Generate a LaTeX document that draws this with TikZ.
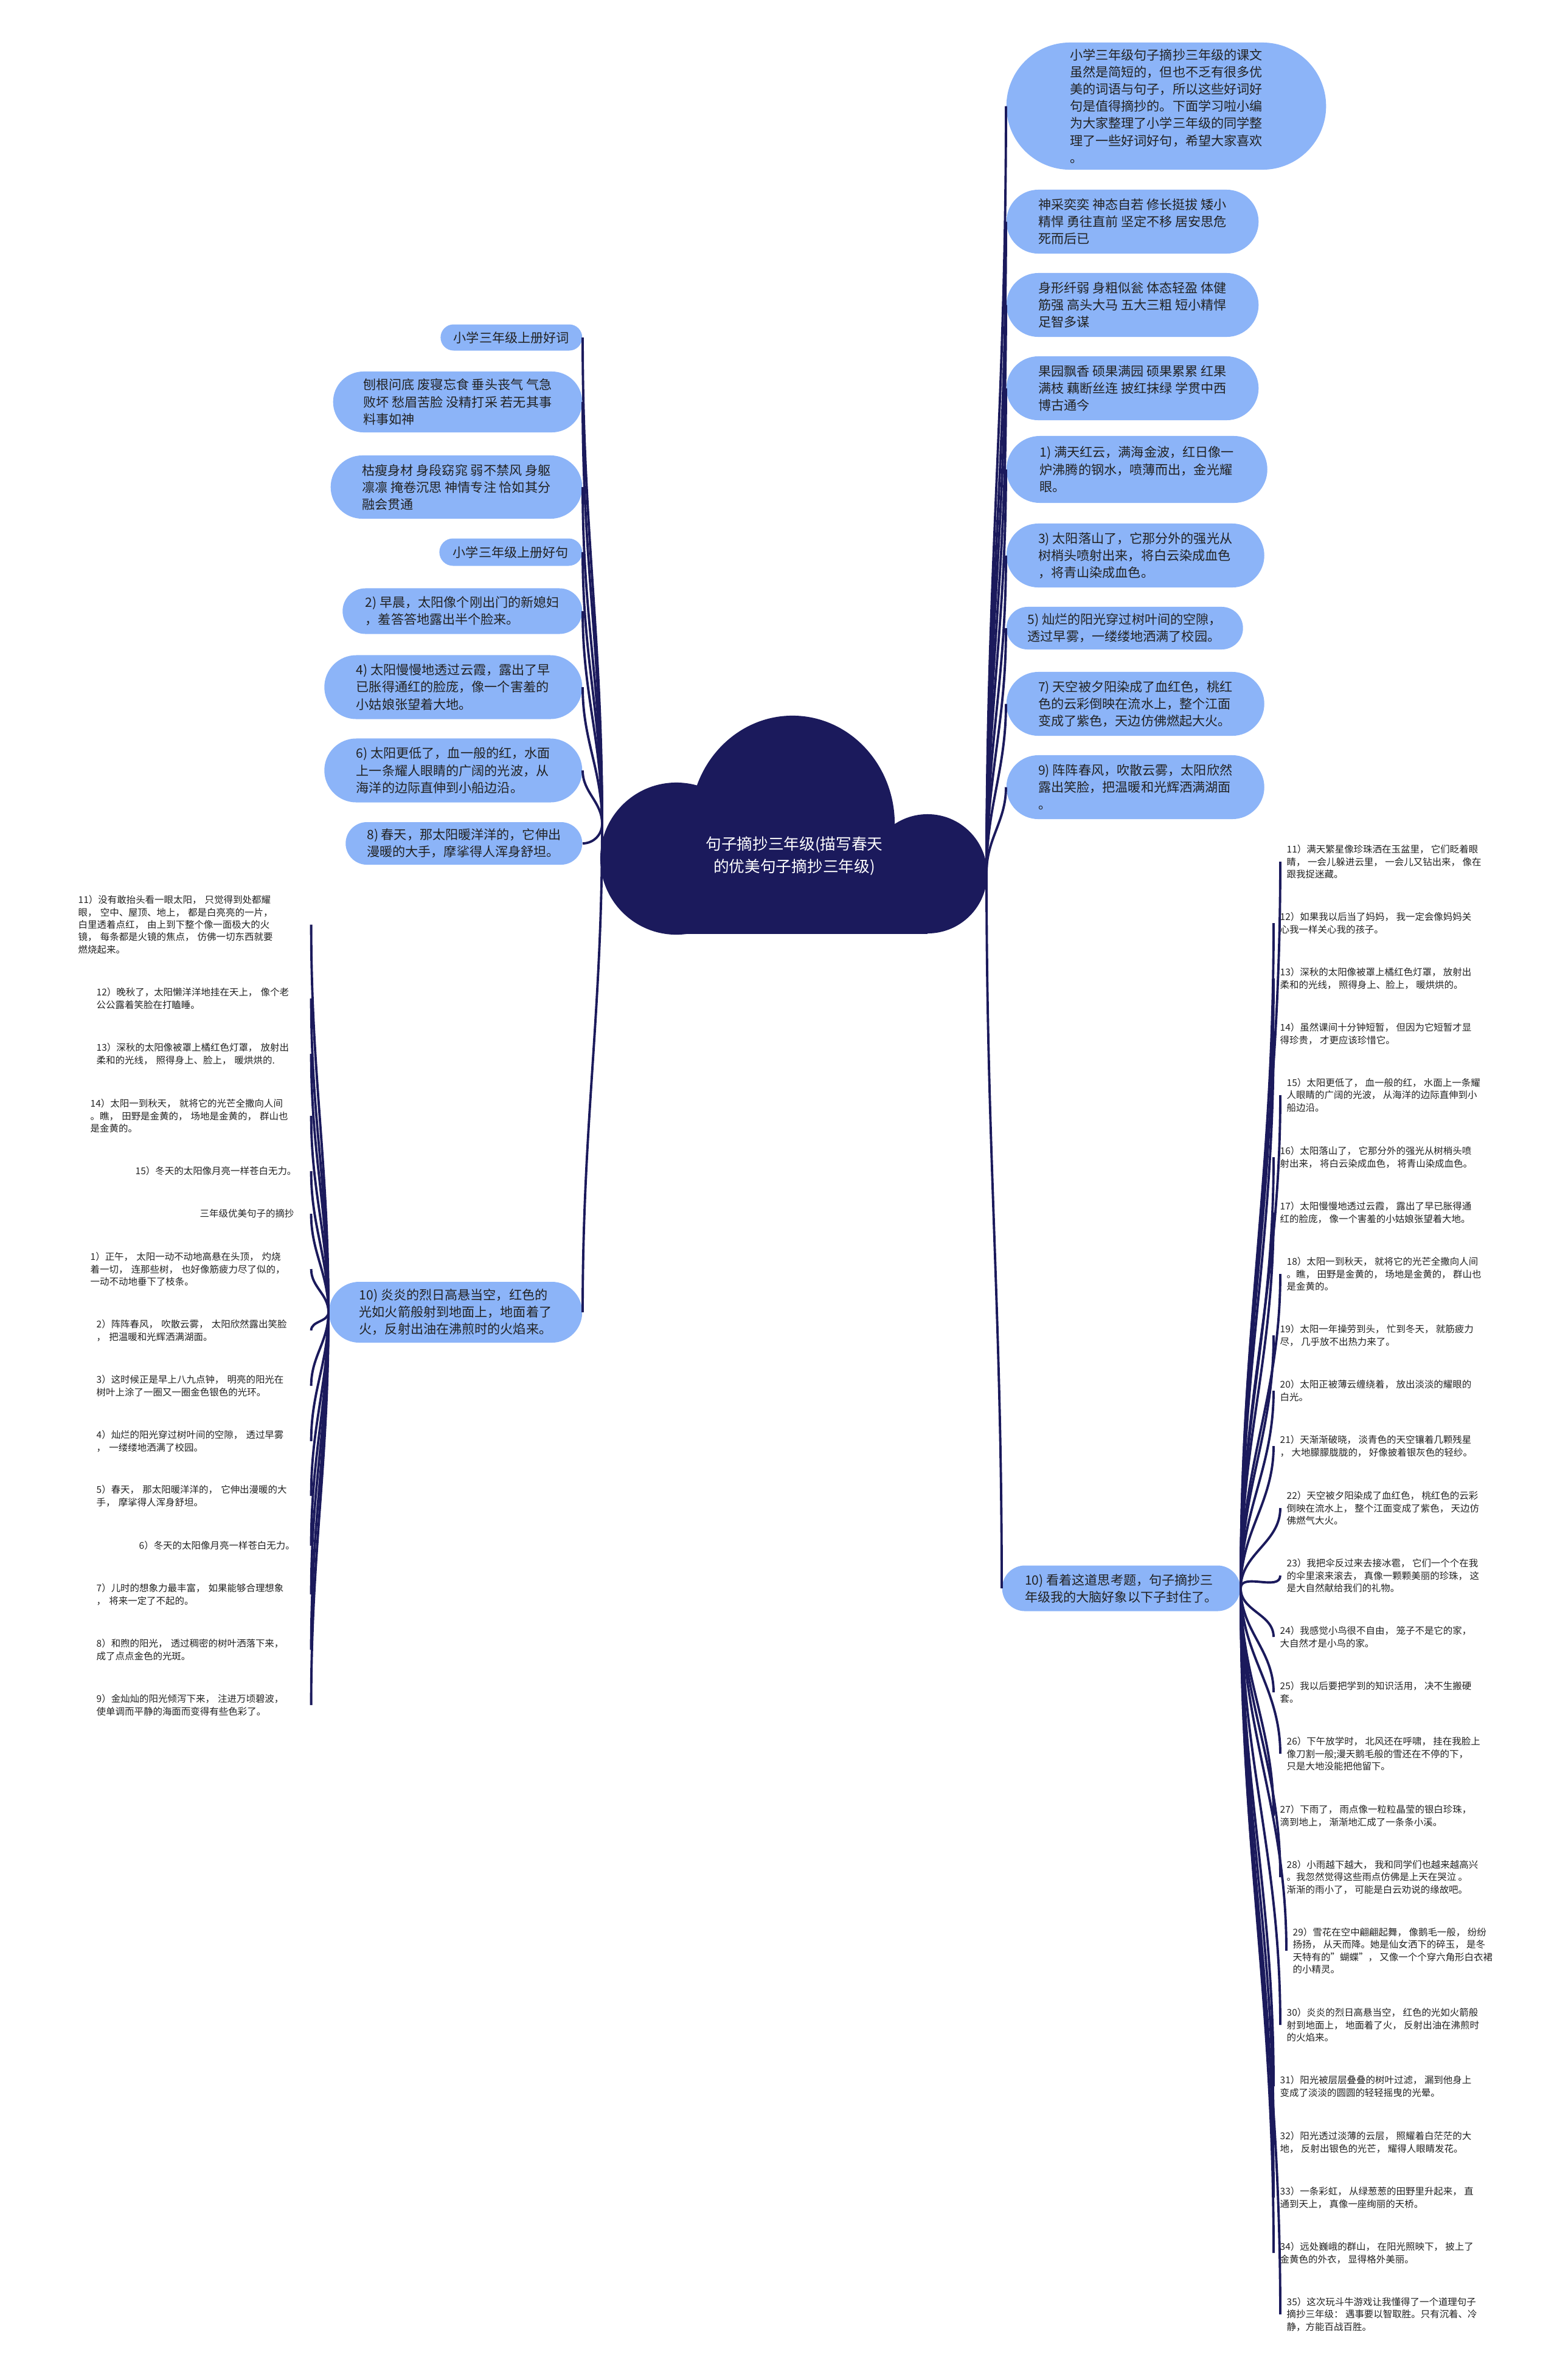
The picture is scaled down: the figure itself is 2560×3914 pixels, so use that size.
\documentclass[tikz,border=0pt]{standalone}
\usepackage{fontspec}
\setmainfont{Noto Sans CJK SC}
\usepackage{tikz}
\definecolor{inknavy}{HTML}{1B1A5C}
\definecolor{pillblue}{HTML}{8CB4F8}
\definecolor{textgrey}{HTML}{222222}
\tikzset{pill/.style={rectangle,rounded corners=#1,minimum height=2*#1,fill=pillblue,
  inner xsep=#1,inner ysep=0pt,align=left,text=textgrey,font=\fontsize{6}{8}\selectfont},
  leafR/.style={anchor=west,inner ysep=0pt,inner xsep=0.1cm,align=left,text=textgrey,
  font=\fontsize{4.4}{5.8}\selectfont},
  leafL/.style={leafR,text width=#1},
  link/.style={draw=inknavy,line width=1.1pt}}

\begin{document}
\begin{tikzpicture}[x=0.01cm,y=-0.01cm]
 \fill[white] (0,0) rectangle (2560,3914);
 \useasboundingbox (0,0) rectangle (2560,3914);
 % cloud
 \fill[inknavy] (1303,1355) ellipse [x radius=1.68cm,y radius=1.78cm];
 \fill[inknavy] (1112,1412) circle [radius=1.25cm];
 \fill[inknavy] (1525,1437) circle [radius=0.98cm];
 \fill[inknavy] (1112,1400) rectangle (1525,1536);
 \node[text=white,align=center,font=\fontsize{7.3}{10.5}\selectfont] (root) at (1306,1408)
  {句子摘抄三年级(描写春天\\的优美句子摘抄三年级)};
 \coordinate (rootW) at (990,1355);
 \coordinate (rootE) at (1622,1435);
 % right branch
 \node[pill=1.045cm,anchor=west] (intro) at (1654,174.5) {小学三年级句子摘抄三年级的课文\\虽然是简短的，但也不乏有很多优\\美的词语与句子，所以这些好词好\\句是值得摘抄的。下面学习啦小编\\为大家整理了小学三年级的同学整\\理了一些好词好句，希望大家喜欢\\。};
 \node[pill=0.525cm,anchor=west] (words1) at (1654,364.5) {神采奕奕 神态自若 修长挺拔 矮小\\精悍 勇往直前 坚定不移 居安思危\\死而后已};
 \node[pill=0.525cm,anchor=west] (words2) at (1654,501.5) {身形纤弱 身粗似瓮 体态轻盈 体健\\筋强 高头大马 五大三粗 短小精悍\\足智多谋};
 \node[pill=0.525cm,anchor=west] (words3) at (1654,638.5) {果园飘香 硕果满园 硕果累累 红果\\满枝 藕断丝连 披红抹绿 学贯中西\\博古通今};
 \node[pill=0.55cm,anchor=west] (sent1) at (1654,772) {1) 满天红云，满海金波，红日像一\\炉沸腾的钢水，喷薄而出，金光耀\\眼。};
 \node[pill=0.525cm,anchor=west] (sent3) at (1654,913.5) {3) 太阳落山了，它那分外的强光从\\树梢头喷射出来，将白云染成血色\\，将青山染成血色。};
 \node[pill=0.35cm,anchor=west] (sent5) at (1654,1033) {5) 灿烂的阳光穿过树叶间的空隙，\\透过早雾，一缕缕地洒满了校园。};
 \node[pill=0.525cm,anchor=west] (sent7) at (1654,1157.5) {7) 天空被夕阳染成了血红色，桃红\\色的云彩倒映在流水上，整个江面\\变成了紫色，天边仿佛燃起大火。};
 \node[pill=0.525cm,anchor=west] (sent9) at (1654,1294.5) {9) 阵阵春风，吹散云雾，太阳欣然\\露出笑脸，把温暖和光辉洒满湖面\\。};
 \node[pill=0.375cm,anchor=west] (think) at (1647,2612) {10) 看着这道思考题，句子摘抄三\\年级我的大脑好象以下子封住了。};
 % left branch
 \node[pill=0.215cm,anchor=east] (wordhead) at (958,555) {小学三年级上册好词};
 \node[pill=0.5cm,anchor=east] (words4) at (958,661) {刨根问底 废寝忘食 垂头丧气 气急\\败坏 愁眉苦脸 没精打采 若无其事\\料事如神};
 \node[pill=0.52cm,anchor=east] (words5) at (958,801) {枯瘦身材 身段窈窕 弱不禁风 身躯\\凛凛 掩卷沉思 神情专注 恰如其分\\融会贯通};
 \node[pill=0.225cm,anchor=east] (senthead) at (958,908) {小学三年级上册好句};
 \node[pill=0.375cm,anchor=east] (sent2) at (958,1005) {2) 早晨，太阳像个刚出门的新媳妇\\，羞答答地露出半个脸来。};
 \node[pill=0.525cm,anchor=east] (sent4) at (958,1130) {4) 太阳慢慢地透过云霞，露出了早\\已胀得通红的脸庞，像一个害羞的\\小姑娘张望着大地。};
 \node[pill=0.525cm,anchor=east] (sent6) at (958,1267) {6) 太阳更低了，血一般的红，水面\\上一条耀人眼睛的广阔的光波，从\\海洋的边际直伸到小船边沿。};
 \node[pill=0.35cm,anchor=east] (sent8) at (958,1387) {8) 春天，那太阳暖洋洋的，它伸出\\漫暖的大手，摩挲得人浑身舒坦。};
 \node[pill=0.5cm,anchor=east] (sent10) at (958,2158) {10) 炎炎的烈日高悬当空，红色的\\光如火箭般射到地面上，地面着了\\火，反射出油在沸煎时的火焰来。};
 % leaves of sent10
 \node[leafL=3.72cm] (lf11) at (118,1520.6) {11）没有敢抬头看一眼太阳， 只觉得到处都耀\\眼， 空中、屋顶、地上， 都是白亮亮的一片，\\白里透着点红， 由上到下整个像一面极大的火\\镜， 每条都是火镜的焦点， 仿佛一切东西就要\\燃烧起来。};
 \node[leafL=3.42cm] (lf12) at (148,1642) {12）晚秋了，太阳懒洋洋地挂在天上， 像个老\\公公露着笑脸在打瞌睡。};
 \node[leafL=3.42cm] (lf13) at (148,1733) {13）深秋的太阳像被罩上橘红色灯罩， 放射出\\柔和的光线， 照得身上、脸上， 暖烘烘的.};
 \node[leafL=3.52cm] (lf14) at (138,1835) {14）太阳一到秋天， 就将它的光芒全撒向人间\\。瞧， 田野是金黄的， 场地是金黄的， 群山也\\是金黄的。};
 \node[leafL=2.78cm] (lf15) at (212,1926) {15）冬天的太阳像月亮一样苍白无力。};
 \node[leafL=1.72cm] (lfhead) at (318,1996) {三年级优美句子的摘抄};
 \node[leafL=3.52cm] (lf1) at (138,2087) {1）正午， 太阳一动不动地高悬在头顶， 灼烧\\着一切， 连那些树， 也好像筋疲力尽了似的，\\一动不动地垂下了枝条。};
 \node[leafL=3.42cm] (lf2) at (148,2188) {2）阵阵春风， 吹散云雾， 太阳欣然露出笑脸\\， 把温暖和光辉洒满湖面。};
 \node[leafL=3.42cm] (lf3) at (148,2279) {3）这时候正是早上八九点钟， 明亮的阳光在\\树叶上涂了一圈又一圈金色银色的光环。};
 \node[leafL=3.42cm] (lf4) at (148,2370) {4）灿烂的阳光穿过树叶间的空隙， 透过早雾\\， 一缕缕地洒满了校园。};
 \node[leafL=3.42cm] (lf5) at (148,2460) {5）春天， 那太阳暖洋洋的， 它伸出漫暖的大\\手， 摩挲得人浑身舒坦。};
 \node[leafL=2.72cm] (lf6) at (218,2542) {6）冬天的太阳像月亮一样苍白无力。};
 \node[leafL=3.42cm] (lf7) at (148,2622) {7）儿时的想象力最丰富， 如果能够合理想象\\， 将来一定了不起的。};
 \node[leafL=3.42cm] (lf8) at (148,2713) {8）和煦的阳光， 透过稠密的树叶洒落下来，\\成了点点金色的光斑。};
 \node[leafL=3.42cm] (lf9) at (148,2804) {9）金灿灿的阳光倾泻下来， 注进万顷碧波，\\使单调而平静的海面而变得有些色彩了。};
 % leaves of think
 \node[leafR] (rf11) at (2105,1417) {11）满天繁星像珍珠洒在玉盆里， 它们眨着眼\\睛， 一会儿躲进云里， 一会儿又钻出来， 像在\\跟我捉迷藏。};
 \node[leafR] (rf12) at (2094,1518) {12）如果我以后当了妈妈， 我一定会像妈妈关\\心我一样关心我的孩子。};
 \node[leafR] (rf13) at (2094,1609) {13）深秋的太阳像被罩上橘红色灯罩， 放射出\\柔和的光线， 照得身上、脸上， 暖烘烘的。};
 \node[leafR] (rf14) at (2094,1700) {14）虽然课间十分钟短暂， 但因为它短暂才显\\得珍贵， 才更应该珍惜它。};
 \node[leafR] (rf15) at (2105,1801) {15）太阳更低了， 血一般的红， 水面上一条耀\\人眼睛的广阔的光波， 从海洋的边际直伸到小\\船边沿。};
 \node[leafR] (rf16) at (2094,1903) {16）太阳落山了， 它那分外的强光从树梢头喷\\射出来， 将白云染成血色， 将青山染成血色。};
 \node[leafR] (rf17) at (2094,1994) {17）太阳慢慢地透过云霞， 露出了早已胀得通\\红的脸庞， 像一个害羞的小姑娘张望着大地。};
 \node[leafR] (rf18) at (2105,2095) {18）太阳一到秋天， 就将它的光芒全撒向人间\\。瞧， 田野是金黄的， 场地是金黄的， 群山也\\是金黄的。};
 \node[leafR] (rf19) at (2094,2196) {19）太阳一年操劳到头， 忙到冬天， 就筋疲力\\尽， 几乎放不出热力来了。};
 \node[leafR] (rf20) at (2094,2287) {20）太阳正被薄云缠绕着， 放出淡淡的耀眼的\\白光。};
 \node[leafR] (rf21) at (2094,2378) {21）天渐渐破晓， 淡青色的天空镶着几颗残星\\， 大地朦朦胧胧的， 好像披着银灰色的轻纱。};
 \node[leafR] (rf22) at (2105,2480) {22）天空被夕阳染成了血红色， 桃红色的云彩\\倒映在流水上， 整个江面变成了紫色， 天边仿\\佛燃气大火。};
 \node[leafR] (rf23) at (2105,2591) {23）我把伞反过来去接冰雹， 它们一个个在我\\的伞里滚来滚去， 真像一颗颗美丽的珍珠， 这\\是大自然献给我们的礼物。};
 \node[leafR] (rf24) at (2094,2692) {24）我感觉小鸟很不自由， 笼子不是它的家，\\大自然才是小鸟的家。};
 \node[leafR] (rf25) at (2094,2783) {25）我以后要把学到的知识活用， 决不生搬硬\\套。};
 \node[leafR] (rf26) at (2105,2884) {26）下午放学时， 北风还在呼啸， 挂在我脸上\\像刀割一般;漫天鹅毛般的雪还在不停的下，\\只是大地没能把他留下。};
 \node[leafR] (rf27) at (2094,2986) {27）下雨了， 雨点像一粒粒晶莹的银白珍珠，\\滴到地上， 渐渐地汇成了一条条小溪。};
 \node[leafR] (rf28) at (2105,3087) {28）小雨越下越大， 我和同学们也越来越高兴\\。我忽然觉得这些雨点仿佛是上天在哭泣 。\\渐渐的雨小了， 可能是白云劝说的缘故吧。};
 \node[leafR] (rf29) at (2115,3208) {29）雪花在空中翩翩起舞， 像鹅毛一般， 纷纷\\扬扬， 从天而降。她是仙女洒下的碎玉， 是冬\\天特有的"蝴蝶"， 又像一个个穿六角形白衣裙\\的小精灵。};
 \node[leafR] (rf30) at (2105,3330) {30）炎炎的烈日高悬当空， 红色的光如火箭般\\射到地面上， 地面着了火， 反射出油在沸煎时\\的火焰来。};
 \node[leafR] (rf31) at (2094,3431) {31）阳光被层层叠叠的树叶过滤， 漏到他身上\\变成了淡淡的圆圆的轻轻摇曳的光晕。};
 \node[leafR] (rf32) at (2094,3523) {32）阳光透过淡薄的云层， 照耀着白茫茫的大\\地， 反射出银色的光芒， 耀得人眼睛发花。};
 \node[leafR] (rf33) at (2094,3614) {33）一条彩虹， 从绿葱葱的田野里升起来， 直\\通到天上， 真像一座绚丽的天桥。};
 \node[leafR] (rf34) at (2094,3705) {34）远处巍峨的群山， 在阳光照映下， 披上了\\金黄色的外衣， 显得格外美丽。};
 \node[leafR] (rf35) at (2105,3806) {35）这次玩斗牛游戏让我懂得了一个道理句子\\摘抄三年级： 遇事要以智取胜。只有沉着、冷\\静，方能百战百胜。};
 % connectors
 \foreach \n in {intro,words1,words2,words3,sent1,sent3,sent5,sent7,sent9}
  \draw[link] (rootE) to[out=90,in=-90] (\n.west);
 \draw[link] (rootE) to[out=-90,in=90] (think.west);
 \foreach \n in {wordhead,words4,words5,senthead,sent2,sent4,sent6}
  \draw[link] (rootW) to[out=90,in=-90] (\n.east);
 \draw[link] (rootW) to[out=-90,in=0] (sent8.east);
 \draw[link] (rootW) to[out=-90,in=90] (sent10.east);
 \foreach \n in {lf11,lf12,lf13,lf14,lf15,lfhead,lf1}
  \draw[link] (sent10.west) to[out=90,in=-90] (\n.east);
 \foreach \n in {lf2,lf3,lf4,lf5,lf6,lf7,lf8,lf9}
  \draw[link] (sent10.west) to[out=-90,in=90] (\n.east);
 \foreach \n in {rf11,rf12,rf13,rf14,rf15,rf16,rf17,rf18,rf19,rf20,rf21,rf22,rf23}
  \draw[link] (think.east) to[out=90,in=-90] (\n.west);
 \foreach \n in {rf24,rf25,rf26,rf27,rf28,rf29,rf30,rf31,rf32,rf33,rf34,rf35}
  \draw[link] (think.east) to[out=-90,in=90] (\n.west);
\end{tikzpicture}
\end{document}
